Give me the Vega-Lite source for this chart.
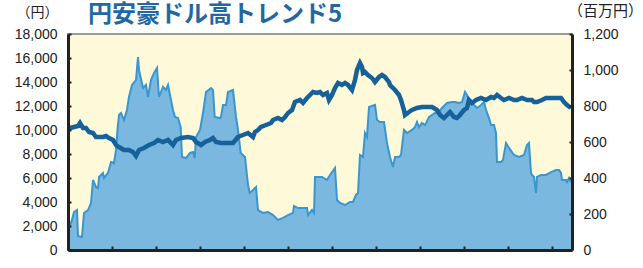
{
  "$schema": "https://vega.github.io/schema/vega-lite/v6.json",
  "width": 504,
  "height": 216,
  "autosize": {"type": "none"},
  "padding": {"left": 68, "top": 34, "right": 71, "bottom": 18},
  "background": "white",
  "config": {
    "view": {"fill": "#fef9d8", "stroke": "#9a9a9a", "strokeWidth": 2},
    "font": "Liberation Sans"
  },
  "title": {
    "text": "円安豪ドル高トレンド5",
    "anchor": "start",
    "frame": "group",
    "dx": 20,
    "dy": 28,
    "font": "Noto Sans CJK JP",
    "fontSize": 24,
    "fontWeight": "bold",
    "color": "#2168a3"
  },
  "datasets": {
    "assets": [
      {"t": 0, "v": 56}, {"t": 0.023, "v": 122}, {"t": 0.091, "v": 167}, {"t": 0.136, "v": 211}, {"t": 0.205, "v": 222},
      {"t": 0.227, "v": 78}, {"t": 0.318, "v": 72}, {"t": 0.364, "v": 206}, {"t": 0.455, "v": 222}, {"t": 0.523, "v": 261},
      {"t": 0.568, "v": 389}, {"t": 0.636, "v": 350}, {"t": 0.682, "v": 344}, {"t": 0.705, "v": 406}, {"t": 0.795, "v": 428},
      {"t": 0.818, "v": 400}, {"t": 0.909, "v": 428}, {"t": 0.977, "v": 489}, {"t": 1.045, "v": 483}, {"t": 1.091, "v": 556},
      {"t": 1.125, "v": 667}, {"t": 1.159, "v": 750}, {"t": 1.205, "v": 761}, {"t": 1.273, "v": 722}, {"t": 1.341, "v": 778},
      {"t": 1.386, "v": 850}, {"t": 1.455, "v": 917}, {"t": 1.545, "v": 944}, {"t": 1.591, "v": 1072}, {"t": 1.614, "v": 1000},
      {"t": 1.705, "v": 900}, {"t": 1.773, "v": 917}, {"t": 1.818, "v": 850}, {"t": 1.886, "v": 944}, {"t": 1.955, "v": 983},
      {"t": 2.023, "v": 1011}, {"t": 2.068, "v": 850}, {"t": 2.159, "v": 906}, {"t": 2.227, "v": 889}, {"t": 2.273, "v": 917},
      {"t": 2.386, "v": 778}, {"t": 2.432, "v": 739}, {"t": 2.5, "v": 733}, {"t": 2.561, "v": 683}, {"t": 2.591, "v": 517},
      {"t": 2.682, "v": 511}, {"t": 2.773, "v": 539}, {"t": 2.841, "v": 544}, {"t": 2.88, "v": 511}, {"t": 2.909, "v": 628},
      {"t": 3.0, "v": 667}, {"t": 3.068, "v": 761}, {"t": 3.136, "v": 878}, {"t": 3.25, "v": 900}, {"t": 3.295, "v": 889},
      {"t": 3.334, "v": 739}, {"t": 3.455, "v": 733}, {"t": 3.477, "v": 739}, {"t": 3.523, "v": 806}, {"t": 3.591, "v": 806},
      {"t": 3.636, "v": 878}, {"t": 3.75, "v": 889}, {"t": 3.818, "v": 739}, {"t": 3.864, "v": 667}, {"t": 3.925, "v": 539},
      {"t": 4.023, "v": 517}, {"t": 4.091, "v": 361}, {"t": 4.13, "v": 317}, {"t": 4.205, "v": 333}, {"t": 4.273, "v": 350},
      {"t": 4.318, "v": 222}, {"t": 4.432, "v": 206}, {"t": 4.545, "v": 211}, {"t": 4.659, "v": 194}, {"t": 4.773, "v": 167},
      {"t": 4.886, "v": 178}, {"t": 5.0, "v": 194}, {"t": 5.114, "v": 206}, {"t": 5.136, "v": 244}, {"t": 5.227, "v": 233},
      {"t": 5.432, "v": 233}, {"t": 5.455, "v": 194}, {"t": 5.545, "v": 222}, {"t": 5.591, "v": 206}, {"t": 5.614, "v": 406},
      {"t": 5.773, "v": 406}, {"t": 5.886, "v": 389}, {"t": 5.955, "v": 417}, {"t": 6.068, "v": 456}, {"t": 6.114, "v": 278},
      {"t": 6.182, "v": 261}, {"t": 6.295, "v": 250}, {"t": 6.409, "v": 267}, {"t": 6.477, "v": 267}, {"t": 6.545, "v": 306},
      {"t": 6.591, "v": 317}, {"t": 6.636, "v": 528}, {"t": 6.705, "v": 517}, {"t": 6.75, "v": 650}, {"t": 6.795, "v": 628},
      {"t": 6.841, "v": 794}, {"t": 6.909, "v": 800}, {"t": 6.977, "v": 806}, {"t": 7.023, "v": 722}, {"t": 7.091, "v": 711},
      {"t": 7.182, "v": 711}, {"t": 7.25, "v": 594}, {"t": 7.318, "v": 517}, {"t": 7.386, "v": 461}, {"t": 7.432, "v": 517},
      {"t": 7.523, "v": 517}, {"t": 7.568, "v": 528}, {"t": 7.636, "v": 667}, {"t": 7.705, "v": 650}, {"t": 7.818, "v": 667},
      {"t": 7.886, "v": 683}, {"t": 7.932, "v": 711}, {"t": 7.977, "v": 683}, {"t": 8.045, "v": 706}, {"t": 8.114, "v": 694},
      {"t": 8.205, "v": 739}, {"t": 8.273, "v": 750}, {"t": 8.341, "v": 761}, {"t": 8.432, "v": 767}, {"t": 8.5, "v": 789},
      {"t": 8.614, "v": 817}, {"t": 8.727, "v": 822}, {"t": 8.795, "v": 822}, {"t": 8.886, "v": 817}, {"t": 8.955, "v": 822},
      {"t": 9.023, "v": 878}, {"t": 9.068, "v": 861}, {"t": 9.136, "v": 822}, {"t": 9.227, "v": 806}, {"t": 9.295, "v": 789},
      {"t": 9.386, "v": 806}, {"t": 9.455, "v": 822}, {"t": 9.5, "v": 778}, {"t": 9.568, "v": 733}, {"t": 9.614, "v": 694},
      {"t": 9.682, "v": 694}, {"t": 9.727, "v": 650}, {"t": 9.75, "v": 489}, {"t": 9.841, "v": 489}, {"t": 9.886, "v": 500},
      {"t": 9.955, "v": 594}, {"t": 10.023, "v": 567}, {"t": 10.136, "v": 528}, {"t": 10.25, "v": 517}, {"t": 10.364, "v": 528},
      {"t": 10.432, "v": 583}, {"t": 10.477, "v": 594}, {"t": 10.523, "v": 428}, {"t": 10.545, "v": 417}, {"t": 10.591, "v": 406},
      {"t": 10.636, "v": 317}, {"t": 10.659, "v": 406}, {"t": 10.75, "v": 417}, {"t": 10.864, "v": 417}, {"t": 10.977, "v": 433},
      {"t": 11.091, "v": 444}, {"t": 11.159, "v": 444}, {"t": 11.205, "v": 428}, {"t": 11.227, "v": 389}, {"t": 11.318, "v": 389},
      {"t": 11.341, "v": 378}, {"t": 11.386, "v": 400}, {"t": 11.432, "v": 378}
    ],
    "price": [
      {"t": 0, "v": 10250}, {"t": 0.068, "v": 10167}, {"t": 0.136, "v": 10250}, {"t": 0.227, "v": 10333}, {"t": 0.273, "v": 10583},
      {"t": 0.341, "v": 10167}, {"t": 0.409, "v": 10167}, {"t": 0.477, "v": 9833}, {"t": 0.568, "v": 9750}, {"t": 0.636, "v": 9417},
      {"t": 0.705, "v": 9417}, {"t": 0.795, "v": 9417}, {"t": 0.864, "v": 9500}, {"t": 0.932, "v": 9333}, {"t": 1.023, "v": 9167},
      {"t": 1.091, "v": 8750}, {"t": 1.159, "v": 8583}, {"t": 1.273, "v": 8333}, {"t": 1.386, "v": 8333}, {"t": 1.477, "v": 8167},
      {"t": 1.545, "v": 7833}, {"t": 1.614, "v": 8333}, {"t": 1.727, "v": 8500}, {"t": 1.841, "v": 8750}, {"t": 1.955, "v": 8917},
      {"t": 2.045, "v": 9167}, {"t": 2.159, "v": 9000}, {"t": 2.273, "v": 9167}, {"t": 2.386, "v": 8750}, {"t": 2.455, "v": 9167},
      {"t": 2.568, "v": 9333}, {"t": 2.727, "v": 9417}, {"t": 2.841, "v": 9333}, {"t": 2.909, "v": 9000}, {"t": 3.023, "v": 8750},
      {"t": 3.114, "v": 9000}, {"t": 3.227, "v": 9167}, {"t": 3.295, "v": 9333}, {"t": 3.364, "v": 9000}, {"t": 3.477, "v": 8917},
      {"t": 3.636, "v": 8917}, {"t": 3.75, "v": 8917}, {"t": 3.864, "v": 9417}, {"t": 3.977, "v": 9583}, {"t": 4.091, "v": 9750},
      {"t": 4.205, "v": 9417}, {"t": 4.25, "v": 9833}, {"t": 4.318, "v": 10000}, {"t": 4.386, "v": 10250}, {"t": 4.5, "v": 10417},
      {"t": 4.614, "v": 10583}, {"t": 4.659, "v": 10833}, {"t": 4.773, "v": 11000}, {"t": 4.864, "v": 10833}, {"t": 4.932, "v": 11083},
      {"t": 5.0, "v": 11417}, {"t": 5.091, "v": 11667}, {"t": 5.159, "v": 12333}, {"t": 5.273, "v": 12500}, {"t": 5.341, "v": 12250},
      {"t": 5.432, "v": 12667}, {"t": 5.5, "v": 12917}, {"t": 5.568, "v": 13167}, {"t": 5.659, "v": 13083}, {"t": 5.727, "v": 13167},
      {"t": 5.795, "v": 12917}, {"t": 5.886, "v": 13083}, {"t": 5.932, "v": 12500}, {"t": 6.0, "v": 12917}, {"t": 6.068, "v": 13500},
      {"t": 6.136, "v": 13917}, {"t": 6.227, "v": 13750}, {"t": 6.295, "v": 13917}, {"t": 6.364, "v": 13750}, {"t": 6.455, "v": 13333},
      {"t": 6.523, "v": 14167}, {"t": 6.568, "v": 15000}, {"t": 6.636, "v": 15583}, {"t": 6.682, "v": 15250}, {"t": 6.705, "v": 14750},
      {"t": 6.75, "v": 14833}, {"t": 6.818, "v": 14583}, {"t": 6.909, "v": 14333}, {"t": 6.977, "v": 14000}, {"t": 7.068, "v": 14417},
      {"t": 7.136, "v": 14583}, {"t": 7.205, "v": 14417}, {"t": 7.295, "v": 14000}, {"t": 7.318, "v": 13750}, {"t": 7.432, "v": 13333},
      {"t": 7.523, "v": 12917}, {"t": 7.568, "v": 12500}, {"t": 7.636, "v": 11667}, {"t": 7.659, "v": 11250}, {"t": 7.75, "v": 11500},
      {"t": 7.818, "v": 11667}, {"t": 7.932, "v": 11833}, {"t": 8.045, "v": 11917}, {"t": 8.159, "v": 11917}, {"t": 8.273, "v": 11917},
      {"t": 8.386, "v": 11667}, {"t": 8.455, "v": 11250}, {"t": 8.545, "v": 11000}, {"t": 8.614, "v": 11250}, {"t": 8.682, "v": 11500},
      {"t": 8.773, "v": 11083}, {"t": 8.841, "v": 11000}, {"t": 8.909, "v": 11250}, {"t": 9.0, "v": 11667}, {"t": 9.068, "v": 11833},
      {"t": 9.114, "v": 12500}, {"t": 9.182, "v": 12250}, {"t": 9.273, "v": 12500}, {"t": 9.386, "v": 12667}, {"t": 9.5, "v": 12500},
      {"t": 9.614, "v": 12750}, {"t": 9.682, "v": 12667}, {"t": 9.75, "v": 12917}, {"t": 9.841, "v": 12667}, {"t": 9.909, "v": 12500},
      {"t": 10.023, "v": 12667}, {"t": 10.136, "v": 12500}, {"t": 10.205, "v": 12500}, {"t": 10.318, "v": 12667}, {"t": 10.432, "v": 12500},
      {"t": 10.545, "v": 12500}, {"t": 10.591, "v": 12333}, {"t": 10.659, "v": 12333}, {"t": 10.773, "v": 12500}, {"t": 10.864, "v": 12667},
      {"t": 10.977, "v": 12667}, {"t": 11.091, "v": 12667}, {"t": 11.205, "v": 12667}, {"t": 11.273, "v": 12333}, {"t": 11.341, "v": 12083},
      {"t": 11.432, "v": 11833}
    ]
  },
  "layer": [
    {
      "data": {"name": "assets"},
      "mark": {"type": "area", "color": "#7ab8df", "opacity": 1, "line": {"color": "#3a96cf", "strokeWidth": 2}},
      "encoding": {
        "x": {"field": "t", "type": "quantitative", "scale": {"domain": [0, 11.4545], "nice": false, "zero": false},
          "axis": {"orient": "bottom", "values": [0,1,2,3,4,5,6,7,8,9,10,11], "labels": false, "tickSize": -4, "tickWidth": 2, "tickColor": "#222",
            "domainColor": "#222", "domainWidth": 3, "title": null, "grid": false, "zindex": 1}},
        "y": {"field": "v", "type": "quantitative", "scale": {"domain": [0, 1200], "nice": false},
          "axis": {"orient": "right", "values": [0,200,400,600,800,1000,1200], "format": ",d", "tickSize": -3, "tickWidth": 2, "tickColor": "#222",
            "domainColor": "#222", "domainWidth": 3, "labelFontSize": 14, "labelColor": "#222", "labelPadding": 14, "grid": false,
            "title": "（百万円）", "titleAngle": 0, "titleX": 33, "titleY": -24, "titleAlign": "center", "titleBaseline": "middle",
            "titleFont": "Noto Sans CJK JP", "titleFontSize": 15, "titleFontWeight": "normal", "titleColor": "#222", "zindex": 1}}
      }
    },
    {
      "data": {"name": "price"},
      "mark": {"type": "line", "color": "#17619b", "strokeWidth": 4.5},
      "encoding": {
        "x": {"field": "t", "type": "quantitative"},
        "y": {"field": "v", "type": "quantitative", "scale": {"domain": [0, 18000], "nice": false},
          "axis": {"orient": "left", "values": [0,2000,4000,6000,8000,10000,12000,14000,16000,18000], "format": ",d", "tickSize": -3, "tickWidth": 2, "tickColor": "#222",
            "domainColor": "#222", "domainWidth": 3, "labelFontSize": 14, "labelColor": "#222", "labelPadding": 14, "grid": false,
            "title": "（円）", "titleAngle": 0, "titleX": -31, "titleY": -22, "titleAlign": "center", "titleBaseline": "middle",
            "titleFont": "Noto Sans CJK JP", "titleFontSize": 14, "titleFontWeight": "normal", "titleColor": "#222", "zindex": 1}}
      }
    }
  ],
  "resolve": {"scale": {"y": "independent"}}
}
